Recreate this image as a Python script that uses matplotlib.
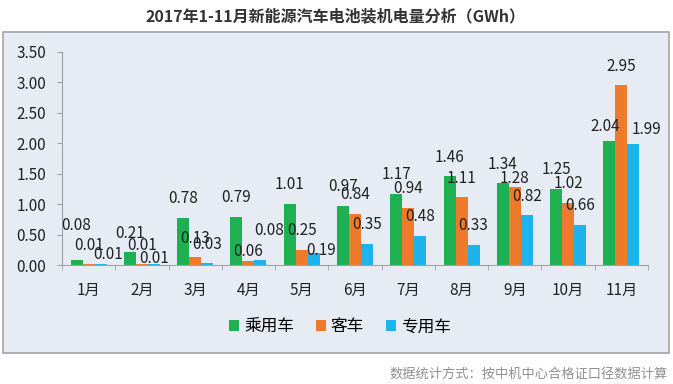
import matplotlib.pyplot as plt
import numpy as np
from matplotlib.patches import Rectangle

plt.rcParams['font.family'] = ['Noto Sans CJK SC', 'DejaVu Sans']

# === Data ===
months = ["1月", "2月", "3月", "4月", "5月", "6月", "7月", "8月", "9月", "10月", "11月"]
passenger = [0.08, 0.21, 0.78, 0.79, 1.01, 0.97, 1.17, 1.46, 1.34, 1.25, 2.04]
bus = [0.01, 0.01, 0.13, 0.06, 0.25, 0.84, 0.94, 1.11, 1.28, 1.02, 2.95]
special = [0.01, 0.01, 0.03, 0.08, 0.19, 0.35, 0.48, 0.33, 0.82, 0.66, 1.99]
series_names = ["乘用车", "客车", "专用车"]
colors = ["#1fb151", "#ee7b2c", "#1db3ec"]

# label nudges (series, month) -> (dx, dy) in pixels, like the excel layout
nudges = {(0, 0): (0, 35), (2, 0): (8, 10), (2, 1): (0, 6), (1, 3): (0, 10),
          (2, 3): (9, 30), (2, 4): (7, 3), (1, 8): (0, 9), (0, 10): (-4, 14),
          (2, 10): (13, 14)}

W, H = 673, 384
fig = plt.figure(figsize=(W / 100, H / 100), dpi=100)

# panel background
panel = Rectangle((3 / W, 1 - 353 / H), 666 / W, 321 / H, transform=fig.transFigure,
                  facecolor="#e7ecf4", edgecolor="#a3a4ab", linewidth=1.2, zorder=-1)
fig.patches.append(panel)

fig.text(336 / W, 1 - 16 / H, "2017年1-11月新能源汽车电池装机电量分析（GWh）",
         ha="center", va="center", fontsize=11.5, fontweight="bold", color="#333333")

ax = fig.add_axes([62 / W, 1 - 265 / H, 586 / W, 213 / H])
ax.set_facecolor("none")
ax.set_zorder(1)

x = np.arange(len(months))
bw = 0.225
for i, (vals, name, c) in enumerate(zip([passenger, bus, special], series_names, colors)):
    pos = x + (i - 1) * bw
    ax.bar(pos, vals, width=bw, color=c, label=name, zorder=2)
    for j, (xx, v) in enumerate(zip(pos, vals)):
        dx, dy = nudges.get((i, j), (0, 19))
        ax.annotate(f"{v:.2f}", (xx, v), xytext=(dx * 0.72, dy * 0.72), textcoords="offset points",
                    ha="center", va="center", fontsize=11, color="#222222", zorder=3)

ax.set_xlim(-0.5, len(months) - 0.5)
ax.set_ylim(0, 3.5)
ax.set_yticks(np.arange(0, 3.51, 0.5))
ax.set_yticklabels([f"{v:.2f}" for v in np.arange(0, 3.51, 0.5)])
ax.set_xticks(x)
ax.set_xticklabels(months)
ax.set_xticks(np.arange(-0.5, len(months), 1), minor=True)
ax.tick_params(axis="x", which="major", length=0, pad=12, labelsize=11, colors="#222222")
ax.tick_params(axis="x", which="minor", length=3.5, color="#a0a0a0")
ax.tick_params(axis="y", length=3.6, color="#a0a0a0", labelsize=11, labelcolor="#222222", pad=8)
for s in ["top", "right"]:
    ax.spines[s].set_visible(False)
for s in ["left", "bottom"]:
    ax.spines[s].set_color("#a0a0a0")

handles, labels = ax.get_legend_handles_labels()
fig.legend(handles, labels, loc="center", bbox_to_anchor=(340 / W, 1 - 327 / H), ncol=3,
           frameon=False, fontsize=12, handlelength=0.6, handleheight=0.6,
           handletextpad=0.3, columnspacing=1.3)

fig.text(668 / W, 1 - 375 / H, "数据统计方式：按中机中心合格证口径数据计算",
         ha="right", va="center", fontsize=9.5, color="#909090")

fig.savefig("out.png", dpi=100)
